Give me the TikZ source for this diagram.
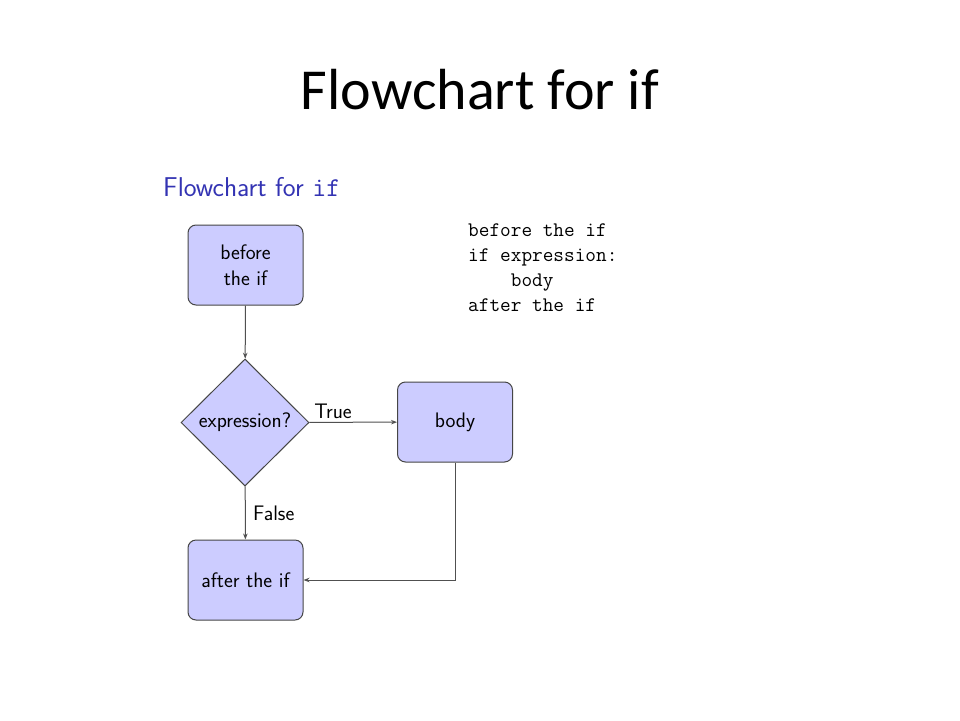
\documentclass[tikz,border=0pt]{standalone}
\usepackage{fontspec}
\newfontfamily\titlefont{Carlito}
\usetikzlibrary{shapes.geometric,arrows.meta}
\definecolor{boxfill}{RGB}{204,204,255}
\definecolor{boxline}{RGB}{70,70,70}
\definecolor{connline}{RGB}{80,80,80}
\definecolor{structblue}{RGB}{51,51,179}
\tikzset{
  flowbox/.style={draw=boxline,fill=boxfill,rounded corners=8pt,line width=1pt,
    minimum width=115pt,minimum height=80pt,inner sep=0pt,align=center,
    font=\fontsize{21}{26}\selectfont\sffamily},
  decision/.style={draw=boxline,fill=boxfill,diamond,line width=1pt,
    minimum width=128pt,minimum height=127pt,inner sep=0pt,
    font=\fontsize{21}{26}\selectfont\sffamily},
  conn/.style={draw=connline,line width=1pt,-{Stealth[length=6pt,width=4.5pt]}},
  lbl/.style={font=\fontsize{21}{26}\selectfont\sffamily},
  code/.style={font=\fontsize{20.7}{25}\selectfont\ttfamily,anchor=base west,inner sep=0pt}
}
\begin{document}
\begin{tikzpicture}[x=1pt,y=-1pt]
\useasboundingbox[fill=white] (0,0) rectangle (960,720);
\node[font=\fontsize{58}{64}\selectfont\titlefont] (title) at (480,90) {Flowchart for if};
\node[anchor=west,inner sep=0pt,text=structblue,font=\fontsize{27.2}{32}\selectfont\sffamily] (sub) at (163,187) {Flowchart for \texttt{if}};
\node[flowbox] (before) at (245.5,265) {before\\the if};
\node[decision] (expr) at (245,422.5) {expression?};
\node[flowbox] (body) at (455,422) {body};
\node[flowbox] (after) at (245.5,580) {after the if};
\draw[conn] (before) -- (expr);
\draw[conn] (expr) -- node[lbl,above,pos=0.27] (t) {True} (body);
\draw[conn] (expr) -- node[lbl,right,pos=0.5,xshift=4pt] (f) {False} (after);
\draw[conn] (body.south) |- (after.east);
\node[code] (c1) at (468,236.5) {before the if};
\node[code] (c2) at (468,261.5) {if expression:};
\node[code] (c3) at (468,286.5) {\ \ \ \ body};
\node[code] (c4) at (468,311.5) {after the if};
\end{tikzpicture}
\end{document}
